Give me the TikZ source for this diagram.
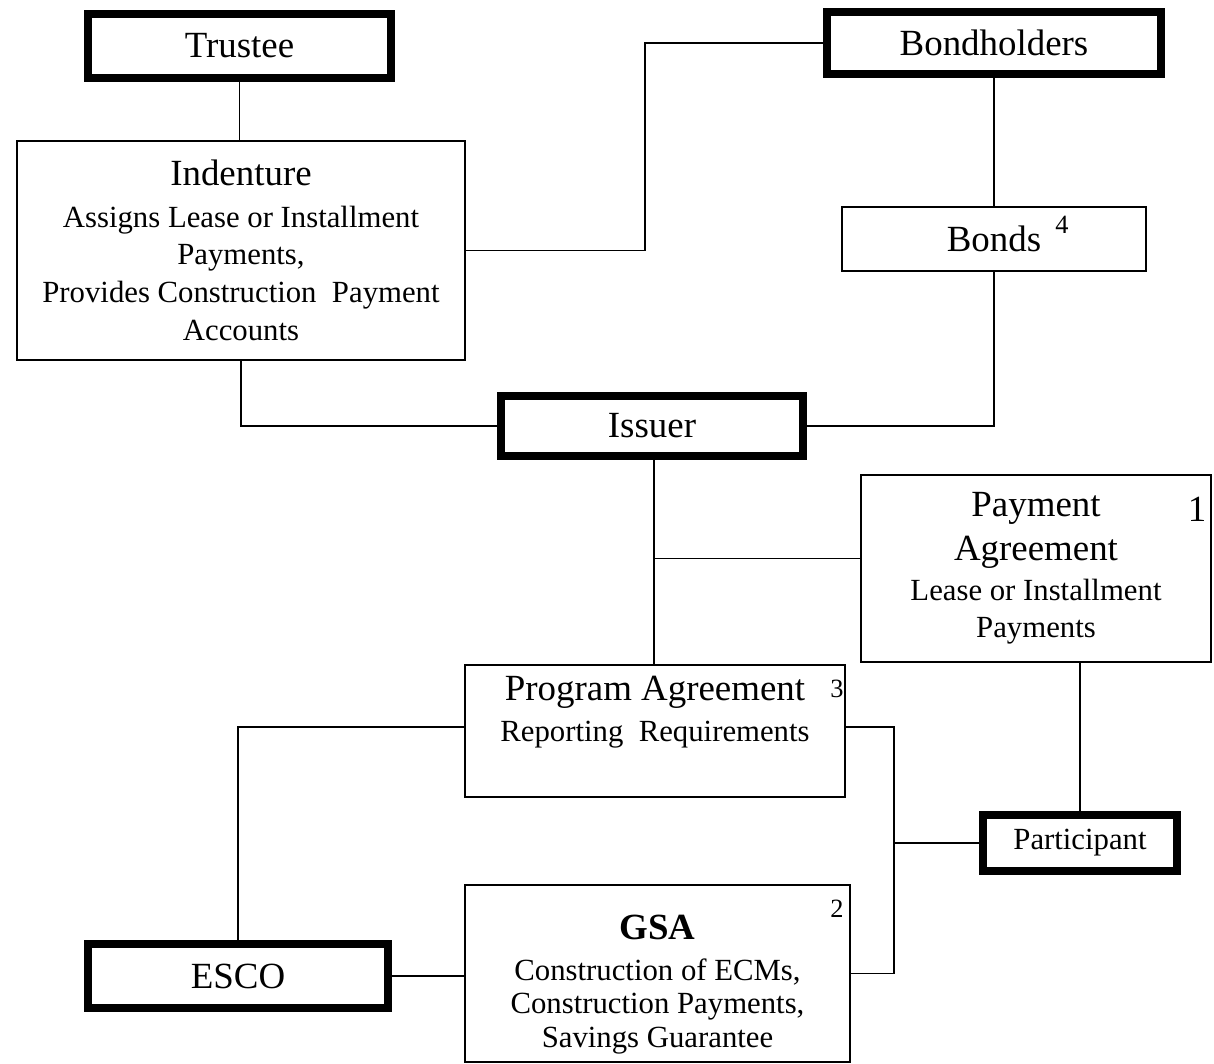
\documentclass[tikz,border=0pt]{standalone}
\usepackage{fontspec}
\setmainfont{Liberation Serif}
\usepackage{tikz}
\usetikzlibrary{calc}

\newcommand{\titlefont}{\fontsize{21}{25}\selectfont}
\newcommand{\bodyfont}{\fontsize{17.5}{21.5}\selectfont}
\newcommand{\tagfont}{\fontsize{15}{18}\selectfont}

\begin{document}
\begin{tikzpicture}[
  box/.style={draw, line width=1.1pt, align=center, inner sep=2pt, font=\bodyfont},
  party/.style={draw, line width=4.5pt, align=center, font=\titlefont},
  link/.style={line width=1.1pt},
  tag/.style={font=\tagfont, inner sep=0pt}
]
\useasboundingbox (0,0) rectangle (24.28,-21.26);

% Parties
\node[party, minimum width=6.06cm, minimum height=1.28cm] (trustee) at (4.79,-0.92) {Trustee};
\node[party, minimum width=6.68cm, minimum height=1.24cm] (bondholders) at (19.88,-0.86) {Bondholders};
\node[party, minimum width=6.04cm, minimum height=1.2cm] (issuer) at (13.04,-8.52) {Issuer};
\node[party, minimum width=3.88cm, minimum height=1.12cm, font=\bodyfont] (participant) at (21.6,-16.86) {Participant};
\node[party, minimum width=6cm, minimum height=1.28cm] (esco) at (4.76,-19.52) {ESCO};

% Documents
\node[box, minimum width=8.96cm, minimum height=4.38cm] (indenture) at (4.82,-5.01)
  {\titlefont Indenture\\[2pt] Assigns Lease or Installment\\Payments,\\Provides Construction\ \ Payment\\Accounts};
\node[box, minimum width=6.08cm, minimum height=1.28cm, font=\titlefont] (bonds) at (19.88,-4.78) {Bonds};
\node[box, minimum width=7cm, minimum height=3.74cm] (payment) at (20.72,-11.37)
  {\titlefont Payment\\[3.5pt] \titlefont Agreement\\[1pt] Lease or Installment\\Payments};
\node[box, minimum width=7.6cm, minimum height=2.64cm] (program) at (13.1,-14.62) {};
\node[anchor=north, align=center, font=\bodyfont] (program-txt) at ([yshift=-0.12cm]program.north)
  {\titlefont Program Agreement\\[2pt] Reporting\ \ Requirements};
\node[box, minimum width=7.7cm, minimum height=3.54cm] (gsa) at (13.15,-19.47) {};
\node[anchor=north, align=center, font=\bodyfont] (gsa-txt) at ([yshift=-0.5cm]gsa.north)
  {\titlefont\bfseries GSA\\[2pt] Construction of ECMs,\\[-3pt]Construction Payments,\\[-2pt]Savings Guarantee};

% Numbers
\node[tag] (tag-bonds) at ([xshift=1.36cm,yshift=0.28cm]bonds.center) {4};
\node[tag, font=\titlefont] (tag-payment) at ([xshift=-0.3cm,yshift=-0.7cm]payment.north east) {1};
\node[tag] (tag-program) at ([xshift=-0.18cm,yshift=-0.5cm]program.north east) {3};
\node[tag] (tag-gsa) at ([xshift=-0.28cm,yshift=-0.5cm]gsa.north east) {2};

% Links
\coordinate (jiss) at ([xshift=0.04cm]issuer.south);
\draw[link] (trustee.south) -- (trustee.south |- indenture.north);
\draw[link] (indenture.east) -- ++(3.58,0) |- (bondholders.west);
\draw[link] (bondholders) -- (bonds);
\draw[link] (bonds.south) |- (issuer.east);
\draw[link] (indenture.south) |- (issuer.west);
\draw[link] (jiss) -- (jiss |- program.north);
\draw[link] ([yshift=0.2cm]payment.west) -- ([yshift=0.2cm]payment.west -| jiss);
\draw[link] (participant.north) -- (participant.north |- payment.south);
\draw[link] ([yshift=0.08cm]program.west) -| (esco.north);
\draw[link] (esco.east) -- (esco.east -| gsa.west);
\draw[link] ([yshift=0.08cm]program.east) -- ++(0.96,0) coordinate (jprog) |- (gsa.east);
\draw[link] (participant.west) -- (participant.west -| jprog);
\end{tikzpicture}
\end{document}
